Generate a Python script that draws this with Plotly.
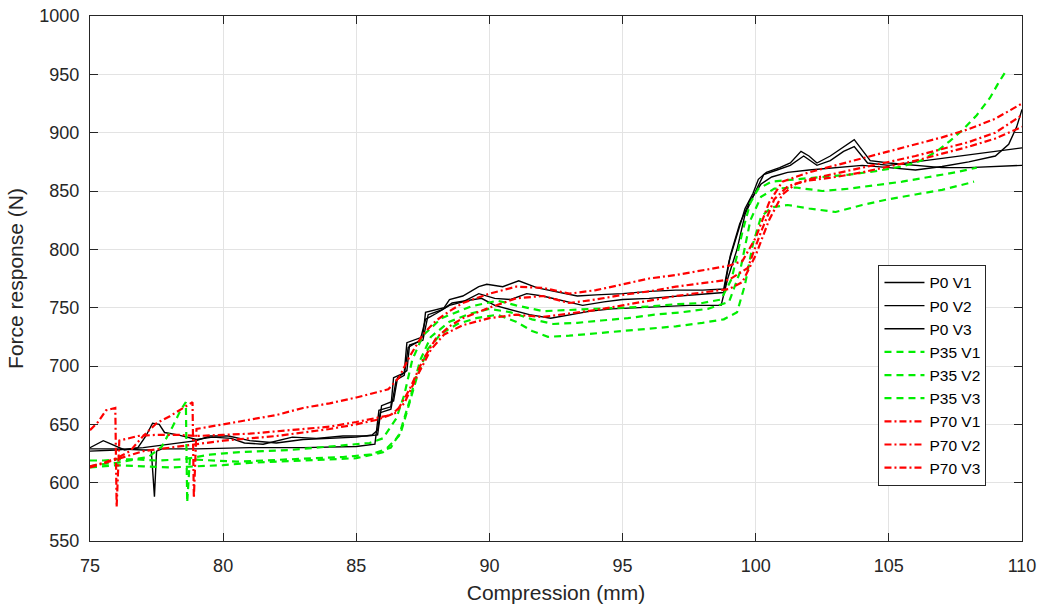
import plotly.graph_objects as go

# Force response vs. compression, three repeats (V1-V3) at three settings (P0, P35, P70)
# Each series: (compression mm, force N)
P0_V1 = [(75.0, 629), (76.0, 629), (77.0, 628), (77.3, 628), (77.42, 588), (77.5, 627), (77.7, 629),
         (79.0, 629), (81.0, 630), (83.0, 630), (85.0, 631), (85.7, 633), (85.85, 662), (86.3, 665),
         (86.4, 690), (86.8, 694), (86.9, 720), (87.5, 725), (87.6, 746), (88.3, 750), (88.5, 757),
         (89.0, 760), (89.6, 768), (89.9, 770), (90.5, 768), (91.1, 773), (91.8, 767), (92.5, 764),
         (93.3, 760), (94.0, 761), (95.0, 762), (96.0, 764), (97.0, 765), (98.0, 765), (98.8, 766),
         (99.0, 790), (99.3, 812), (99.6, 835), (99.9, 848), (100.1, 860), (100.4, 866), (100.9, 870),
         (101.3, 874), (101.7, 884), (102.0, 880), (102.3, 874), (102.8, 880), (103.3, 888),
         (103.7, 894), (104.0, 885), (104.3, 876), (105.0, 874), (106.0, 872), (107.0, 870),
         (108.0, 870), (109.0, 871), (110.0, 872)]
P0_V2 = [(75.0, 630), (75.3, 634), (75.5, 636), (75.8, 633), (76.3, 628), (76.8, 630), (77.1, 640),
         (77.35, 651), (77.6, 650), (77.8, 643), (78.3, 641), (79.0, 637), (79.6, 639), (80.3, 638),
         (80.8, 634), (81.5, 633), (82.0, 636), (82.6, 639), (83.5, 638), (84.5, 640), (85.4, 640),
         (85.8, 641), (85.95, 666), (86.4, 670), (86.55, 690), (86.9, 696), (87.0, 718), (87.5, 722),
         (87.7, 744), (88.2, 748), (88.6, 754), (89.2, 756), (89.7, 758), (90.2, 752), (90.8, 748),
         (91.5, 744), (92.3, 741), (93.0, 744), (93.8, 747), (94.6, 749), (95.5, 750), (96.5, 751),
         (97.5, 752), (98.7, 752), (98.95, 775), (99.3, 800), (99.6, 830), (100.0, 850), (100.3, 864),
         (100.8, 868), (101.3, 872), (101.8, 880), (102.3, 872), (102.8, 876), (103.3, 884),
         (103.7, 888), (104.2, 874), (105.0, 872), (106.0, 875), (107.0, 878), (108.0, 881),
         (109.0, 884), (110.0, 887)]
P0_V3 = [(75.0, 627), (76.0, 628), (77.0, 630), (78.0, 633), (79.0, 636), (79.5, 640), (80.2, 640),
         (81.0, 636), (82.0, 634), (83.0, 637), (84.0, 638), (85.0, 639), (85.6, 641), (85.8, 645),
         (85.9, 660), (86.3, 663), (86.5, 688), (86.8, 692), (86.95, 716), (87.4, 722), (87.6, 740),
         (88.0, 745), (88.5, 752), (89.0, 755), (89.6, 762), (90.2, 758), (90.8, 757), (91.4, 762),
         (92.0, 760), (92.7, 756), (93.5, 752), (94.3, 755), (95.0, 757), (96.0, 758), (97.0, 760),
         (98.0, 762), (98.8, 763), (99.05, 795), (99.4, 822), (99.8, 842), (100.2, 856), (100.6, 862),
         (101.2, 866), (102.0, 868), (103.0, 870), (104.0, 872), (105.0, 870), (106.0, 868),
         (107.0, 871), (108.0, 875), (109.0, 880), (109.5, 890), (109.8, 905), (110.0, 920)]

P35_V1 = [(75.0, 614), (75.5, 616), (76.0, 617), (76.7, 620), (77.5, 619), (78.5, 620), (79.5, 624),
          (80.5, 626), (81.5, 627), (82.5, 628), (83.5, 630), (84.5, 632), (85.5, 634), (86.0, 638),
          (86.5, 655), (86.8, 675), (87.1, 705), (87.5, 726), (88.2, 741), (89.3, 751), (90.3, 756),
          (91.0, 752), (92.0, 747), (93.0, 748), (94.0, 749), (95.0, 750), (96.0, 751), (97.0, 753),
          (98.0, 754), (98.7, 757), (99.1, 775), (99.5, 815), (99.8, 840), (100.1, 852), (100.6, 858),
          (101.5, 860), (102.5, 862), (103.5, 864), (104.5, 867), (105.5, 871), (106.2, 876),
          (106.8, 884), (107.3, 893), (107.8, 903), (108.3, 915), (108.8, 930), (109.1, 942),
          (109.4, 953)]
P35_V2 = [(75.0, 619), (75.5, 619), (76.0, 620), (76.6, 620), (77.2, 622), (77.7, 631), (78.1, 648),
          (78.4, 662), (78.6, 669), (78.65, 583), (78.75, 620), (79.5, 619), (80.5, 618), (81.5, 619),
          (82.5, 620), (83.5, 621), (84.5, 622), (85.5, 624), (86.3, 630), (86.7, 645), (87.0, 668),
          (87.3, 692), (87.7, 715), (88.2, 728), (88.8, 736), (89.5, 741), (90.3, 744), (91.0, 738),
          (91.6, 730), (92.2, 725), (93.0, 726), (94.0, 728), (95.0, 730), (96.0, 732), (97.0, 734),
          (98.0, 737), (98.8, 740), (99.3, 746), (99.6, 770), (99.9, 805), (100.2, 828), (100.6, 836),
          (101.2, 838), (102.0, 835), (103.0, 832), (104.0, 838), (105.0, 843), (106.0, 847),
          (107.0, 851), (107.7, 855), (108.2, 858)]
P35_V3 = [(75.0, 613), (76.0, 615), (77.0, 614), (78.0, 613), (79.0, 614), (80.0, 615), (81.0, 617),
          (82.0, 618), (83.0, 619), (84.0, 620), (85.0, 621), (86.0, 626), (86.6, 640), (87.0, 670),
          (87.4, 705), (87.8, 725), (88.5, 738), (89.3, 745), (90.0, 749), (90.8, 746), (91.6, 740),
          (92.4, 736), (93.3, 737), (94.2, 739), (95.2, 741), (96.2, 744), (97.2, 746), (98.2, 749),
          (99.0, 755), (99.4, 780), (99.8, 825), (100.2, 845), (100.7, 852), (101.5, 853),
          (102.5, 850), (103.5, 852), (104.5, 855), (105.5, 858), (106.5, 862), (107.5, 866),
          (108.3, 870)]

P70_V1 = [(75.0, 645), (75.3, 652), (75.6, 662), (75.95, 664), (76.0, 579), (76.1, 636), (76.8, 640),
          (77.5, 641), (78.3, 641), (79.0, 640), (80.0, 641), (81.0, 642), (82.0, 644), (83.0, 646),
          (84.0, 648), (85.0, 652), (85.8, 656), (86.3, 658), (86.8, 668), (87.3, 692), (87.8, 714),
          (88.3, 727), (89.0, 735), (90.0, 741), (91.0, 744), (92.0, 742), (93.0, 745), (94.0, 748),
          (95.0, 752), (96.0, 756), (97.0, 760), (98.0, 763), (99.0, 766), (99.5, 772), (100.0, 795),
          (100.5, 825), (101.0, 847), (101.5, 856), (102.0, 859), (103.0, 862), (104.0, 866),
          (105.0, 871), (106.0, 876), (107.0, 882), (108.0, 888), (109.0, 895), (110.0, 905)]
P70_V2 = [(75.0, 614), (75.5, 617), (76.0, 621), (76.5, 627), (77.0, 640), (77.5, 651), (78.0, 657),
          (78.5, 664), (78.85, 669), (78.9, 587), (79.0, 646), (80.0, 650), (81.0, 654), (82.0, 658),
          (83.0, 664), (84.0, 668), (85.0, 673), (85.8, 678), (86.2, 680), (86.6, 690), (87.0, 708),
          (87.5, 727), (88.0, 739), (88.5, 747), (89.0, 754), (90.0, 762), (91.0, 768), (92.0, 767),
          (93.0, 762), (94.0, 765), (95.0, 770), (96.0, 775), (97.0, 778), (98.0, 782), (99.0, 786),
          (99.5, 790), (100.0, 810), (100.5, 840), (101.0, 858), (102.0, 866), (103.0, 872),
          (104.0, 878), (105.0, 884), (106.0, 890), (107.0, 896), (108.0, 903), (109.0, 912),
          (110.0, 925)]
P70_V3 = [(75.0, 613), (76.0, 620), (76.5, 624), (77.0, 627), (78.0, 630), (79.0, 633), (80.0, 636),
          (81.0, 638), (82.0, 640), (83.0, 643), (84.0, 646), (85.0, 650), (85.8, 654), (86.5, 660),
          (87.0, 680), (87.5, 705), (88.0, 724), (88.5, 734), (89.0, 741), (90.0, 750), (91.0, 758),
          (92.0, 760), (93.0, 754), (94.0, 757), (95.0, 761), (96.0, 764), (97.0, 768), (98.0, 771),
          (99.0, 774), (99.7, 784), (100.2, 815), (100.7, 843), (101.2, 854), (102.0, 860),
          (103.0, 865), (104.0, 870), (105.0, 875), (106.0, 880), (107.0, 886), (108.0, 892),
          (109.0, 900), (110.0, 915)]

SERIES = [
    ("P0 V1", P0_V1), ("P0 V2", P0_V2), ("P0 V3", P0_V3),
    ("P35 V1", P35_V1), ("P35 V2", P35_V2), ("P35 V3", P35_V3),
    ("P70 V1", P70_V1), ("P70 V2", P70_V2), ("P70 V3", P70_V3),
]

STYLE = {
    "P0": dict(color="#000000", width=1.4, dash="solid"),
    "P35": dict(color="#00ee00", width=2.2, dash="7px,5px"),
    "P70": dict(color="#ff0000", width=2.2, dash="7px,3px,2px,3px"),
}

AXIS_COLOR = "#262626"
GRID_COLOR = "#e3e3e3"

fig = go.Figure()
for i, (name, pts) in enumerate(SERIES):
    xs = [p[0] for p in pts]
    ys = [p[1] for p in pts]
    fig.add_trace(go.Scatter(
        x=xs, y=ys, mode="lines", name=name,
        line=STYLE[name.split()[0]],
        legendgroup=f"g{i}",
    ))

axis_common = dict(
    showline=True, linecolor=AXIS_COLOR, linewidth=1, mirror="ticks",
    ticks="inside", ticklen=8, tickcolor=AXIS_COLOR, tickwidth=1,
    showgrid=True, gridcolor=GRID_COLOR, gridwidth=1, zeroline=False,
    tickfont=dict(size=18, color=AXIS_COLOR), automargin=False,
)

fig.update_xaxes(range=[75, 110], tick0=75, dtick=5, ticklabelstandoff=8,
                 title=dict(text="Compression (mm)", font=dict(size=21, color=AXIS_COLOR), standoff=10),
                 **axis_common)
fig.update_yaxes(range=[550, 1000], tick0=550, dtick=50, ticklabelstandoff=6,
                 title=dict(text="Force response (N)", font=dict(size=21, color=AXIS_COLOR), standoff=10),
                 **axis_common)

fig.update_layout(
    width=1043, height=605,
    margin=dict(l=90, r=21, t=16, b=64, autoexpand=False),
    paper_bgcolor="white", plot_bgcolor="white",
    font=dict(family="Liberation Sans, Arial, sans-serif", color=AXIS_COLOR),
    showlegend=True,
    legend=dict(
        x=0.846, y=0.526, xanchor="left", yanchor="top",
        bgcolor="white", bordercolor=AXIS_COLOR, borderwidth=1,
        font=dict(size=15.5, color="#000000"), tracegroupgap=0,
        itemwidth=40,
    ),
)

fig.write_html("out.html")
